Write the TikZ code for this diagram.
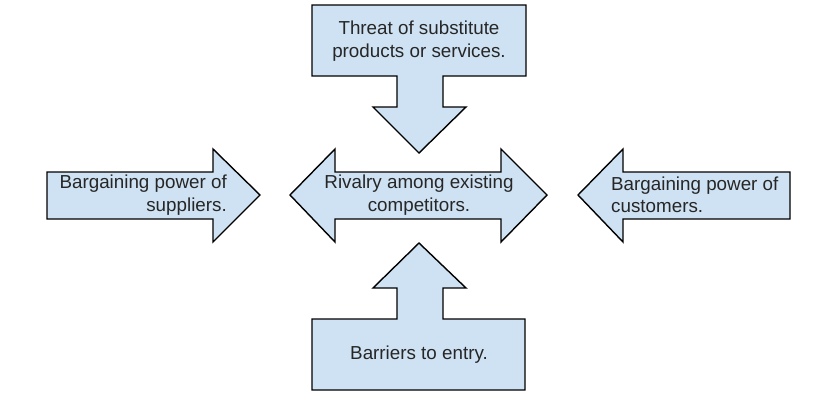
\documentclass[tikz,border=0pt]{standalone}
\usepackage{fontspec}
\setmainfont{Liberation Sans}
\definecolor{boxblue}{HTML}{CFE2F3}
\begin{document}
\begin{tikzpicture}[x=1pt,y=-1pt,
  shp/.style={draw=black, fill=boxblue, line width=1.4pt, line join=miter},
  lbl/.style={font=\fontsize{18.8}{22.5}\selectfont, inner sep=0pt, text=black!85}]
\useasboundingbox (0,0) rectangle (840,402);
% top callout
\draw[shp] (312,5) -- (526,5) -- (526,76) -- (443,76) -- (443,107) -- (466,107)
  -- (419,153) -- (373,107) -- (397,107) -- (397,76) -- (312,76) -- cycle;
% bottom callout
\draw[shp] (312,319) -- (397,319) -- (397,288) -- (373,288) -- (419,243)
  -- (466,288) -- (443,288) -- (443,319) -- (525,319) -- (525,390) -- (312,390) -- cycle;
% left arrow
\draw[shp] (47,172) -- (213,172) -- (213,149) -- (260,195) -- (213,242)
  -- (213,219) -- (47,219) -- cycle;
% middle double arrow
\draw[shp] (290,195) -- (335,149) -- (335,172) -- (501,172) -- (501,149)
  -- (547,195) -- (501,242) -- (501,219) -- (335,219) -- (335,242) -- cycle;
% right arrow
\draw[shp] (578,195) -- (623,149) -- (623,172) -- (790,172) -- (790,219)
  -- (623,219) -- (623,242) -- cycle;
% labels
\node[lbl, align=center] (threat) at (419,41) {Threat of substitute\\products or services.};
\node[lbl, align=right, anchor=east] (suppliers) at (227,195) {Bargaining power of\\suppliers.};
\node[lbl, align=center] (rivalry) at (419,195) {Rivalry among existing\\competitors.};
\node[lbl, align=left, anchor=west] (customers) at (611,195) {Bargaining power of\\customers.};
\node[lbl, align=center] (barriers) at (419,355) {Barriers to entry.};
\end{tikzpicture}
\end{document}
